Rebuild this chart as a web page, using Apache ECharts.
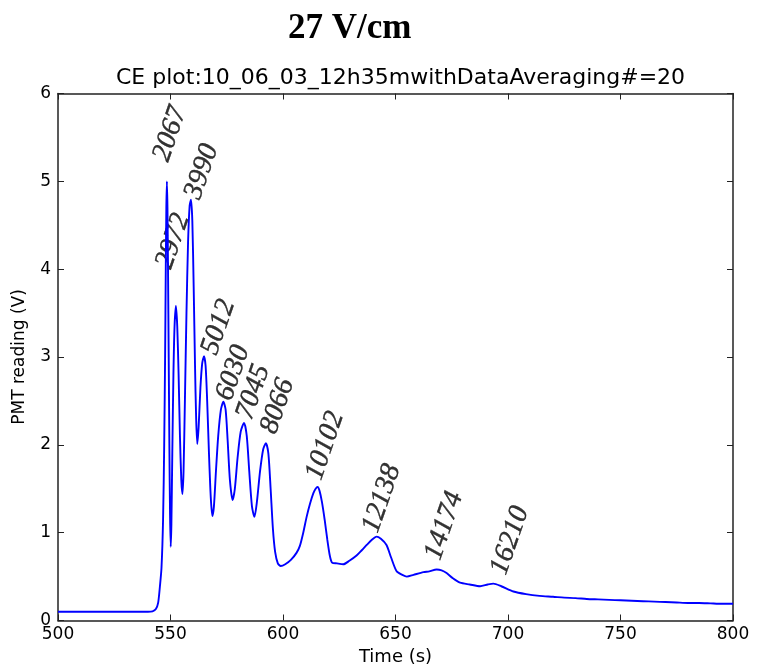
<!DOCTYPE html>
<html>
<head>
<meta charset="utf-8">
<script src="https://cdn.jsdelivr.net/npm/echarts@6/dist/echarts.min.js"></script>
<style>html,body{margin:0;padding:0;background:#fff}#c{width:763px;height:665px}</style>
</head>
<body>
<div id="c"></div>
<script>
var mainTitle = '27 V/cm';
var plotTitle = 'CE plot:10_06_03_12h35mwithDataAveraging#=20';
var xName = 'Time (s)';
var yName = 'PMT reading (V)';
var xTicks = [500, 550, 600, 650, 700, 750, 800];
var yTicks = [0, 1, 2, 3, 4, 5, 6];

var timeS = [500,520,540,542,543.5,544.5,545.3,546.0,546.7,547.2,547.6,547.9,548.15,548.4,548.65,548.9,549.2,549.5,549.8,550.1,550.4,550.8,551.3,551.8,552.4,553.0,553.6,554.2,554.8,555.3,555.8,556.4,557.1,557.8,558.5,559.1,559.7,560.3,560.9,561.4,561.9,562.5,563.3,564.1,564.9,565.6,566.3,567.1,567.9,568.6,569.3,570.2,571.2,572.4,573.5,574.5,575.4,576.4,577.6,578.6,579.8,581.2,582.7,583.9,585,586.2,587.3,588.4,589.8,591.2,592.4,593.5,594.5,595.5,596.5,597.7,599,601,603.5,606,607.5,609,610.5,612,613.5,614.5,615.4,616.3,617.3,618.5,619.7,620.8,621.8,624,626.8,629.5,632.7,635,637.2,639.5,641.6,643.5,646,648,650.5,653,655,658,662.4,665,668.3,670.5,672.7,675.5,678.7,683,687.6,691,693.5,697,702.4,708,714,720,725,730,735,740,745,750,755,760,765,770,775,780,785,790,795,800];
var pmtV  = [0.1,0.1,0.1,0.105,0.13,0.2,0.39,0.6,1.15,2.0,3.0,4.0,4.7,5.0,4.7,4.0,3.0,2.0,1.2,0.84,1.1,1.9,2.8,3.35,3.58,3.35,2.8,2.1,1.6,1.44,1.7,2.5,3.5,4.3,4.72,4.79,4.55,3.8,2.9,2.3,2.01,2.2,2.65,2.93,3.01,2.9,2.5,1.9,1.4,1.19,1.3,1.7,2.1,2.4,2.49,2.4,2.05,1.6,1.37,1.5,1.85,2.15,2.25,2.1,1.7,1.3,1.18,1.35,1.7,1.95,2.02,1.9,1.5,1.05,0.78,0.65,0.62,0.64,0.69,0.77,0.85,1.0,1.18,1.33,1.45,1.5,1.52,1.47,1.35,1.15,0.92,0.74,0.66,0.65,0.64,0.68,0.74,0.8,0.86,0.92,0.955,0.93,0.86,0.72,0.56,0.52,0.5,0.52,0.55,0.56,0.58,0.57,0.54,0.48,0.43,0.41,0.39,0.41,0.42,0.39,0.33,0.3,0.28,0.27,0.26,0.255,0.245,0.24,0.235,0.23,0.225,0.22,0.215,0.21,0.205,0.2,0.2,0.195,0.19,0.19];

var peakLabels = ['2067','2972','3990','5012','6030','7045','8066','10102','12138','14174','16210'];
var labelX = [549.8,551.1,563.9,571.3,577.8,586.8,597.6,618.7,643.9,671.6,700.9];
var labelY = [5.54,4.32,5.11,3.34,2.82,2.60,2.44,1.99,1.39,1.08,0.91];

var lineData = timeS.map(function(t, i){ return [t, pmtV[i]]; });
var labelData = peakLabels.map(function(s, i){ return [labelX[i], labelY[i], s]; });

var sans = 'DejaVu Sans';
var axisCol = '#222';
function xAx(pos, show){
  return {
    type: 'value', position: pos, min: xTicks[0], max: xTicks[xTicks.length-1], interval: 50,
    name: show ? xName : '', nameLocation: 'middle', nameGap: 27,
    nameTextStyle: {fontFamily: sans, fontSize: 18, color: '#000'},
    axisLine: {show: true, onZero: false, lineStyle: {color: axisCol, width: 1.5}},
    axisTick: {show: true, inside: true, length: 6, lineStyle: {color: axisCol, width: 1}},
    axisLabel: {show: show, fontFamily: sans, fontSize: 17, color: '#000', margin: 6},
    splitLine: {show: false}
  };
}
function yAx(pos, show){
  return {
    type: 'value', position: pos, min: yTicks[0], max: yTicks[yTicks.length-1], interval: 1,
    name: show ? yName : '', nameLocation: 'middle', nameGap: 30, nameRotate: 90,
    nameTextStyle: {fontFamily: sans, fontSize: 17, color: '#000'},
    axisLine: {show: true, onZero: false, lineStyle: {color: axisCol, width: 1.5}},
    axisTick: {show: true, inside: true, length: 6, lineStyle: {color: axisCol, width: 1}},
    axisLabel: {show: show, fontFamily: sans, fontSize: 17, color: '#000', margin: 7},
    splitLine: {show: false}
  };
}

var chart = echarts.init(document.getElementById('c'), null, {renderer: 'canvas'});
chart.setOption({
  animation: false,
  backgroundColor: '#fff',
  title: [
    {text: mainTitle, left: 283, top: 6, textStyle: {fontFamily: 'Liberation Serif', fontWeight: 'bold', fontSize: 35, color: '#000'}},
    {text: plotTitle, left: 111, top: 62, textStyle: {fontFamily: sans, fontWeight: 'normal', fontSize: 22, color: '#000'}}
  ],
  grid: {left: 58, right: 30, top: 93.5, bottom: 44.5, containLabel: false, outerBoundsMode: 'none'},
  xAxis: [xAx('bottom', true), xAx('top', false)],
  yAxis: [yAx('left', true), yAx('right', false)],
  series: [
    {
      type: 'line', xAxisIndex: 0, yAxisIndex: 0, data: lineData,
      showSymbol: false, symbol: 'none', smooth: 0.25,
      lineStyle: {color: '#0000ff', width: 1.9}
    },
    {
      type: 'scatter', xAxisIndex: 0, yAxisIndex: 0, data: labelData,
      symbolSize: 0, silent: true,
      label: {
        show: true, position: 'inside', rotate: 71, align: 'center', verticalAlign: 'middle',
        formatter: function(p){ return p.value[2]; },
        fontFamily: 'Liberation Serif', fontStyle: 'italic', fontSize: 28, color: '#000',
        textBorderColor: '#000', textBorderWidth: 0.4
      }
    }
  ]
});
</script>
</body>
</html>
